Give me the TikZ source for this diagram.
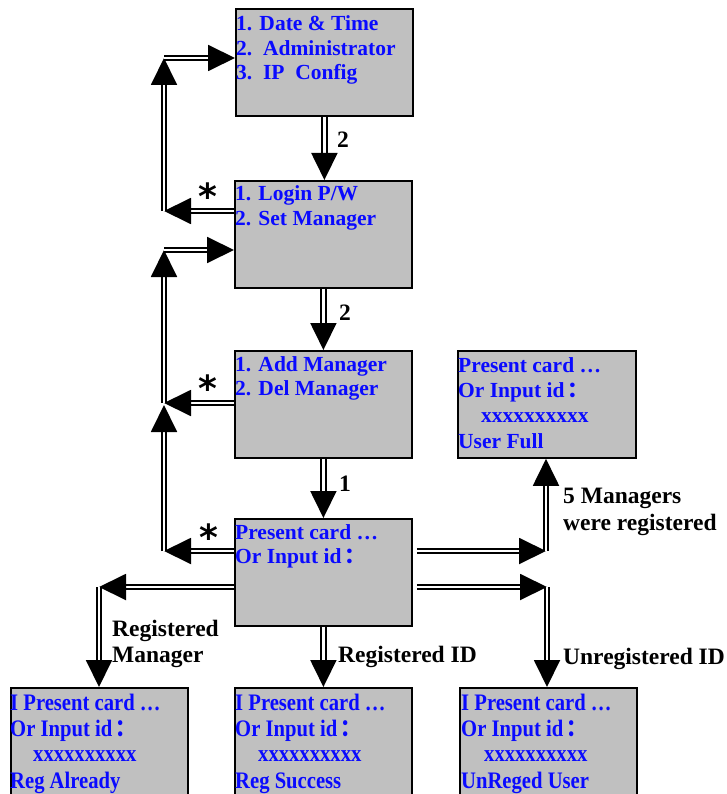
\documentclass[tikz,border=0pt]{standalone}
\usepackage{fontspec}
\setmainfont{Liberation Serif}
\newfontfamily\cjk{Noto Sans CJK SC}
\newfontfamily\starfont{DejaVu Sans}
\usetikzlibrary{arrows.meta,calc}
\definecolor{boxgray}{RGB}{192,192,192}
\definecolor{txtblue}{RGB}{10,10,255}
\newcommand{\fcol}{\hspace{3pt}{\cjk ：}}
\newcommand{\sq}[1]{\scalebox{0.96}[1.1]{#1}}
\begin{document}
\begin{tikzpicture}[x=1pt,y=-1pt,
  box/.style={draw=black, line width=1.8pt, fill=boxgray, anchor=north west,
    minimum width=177pt, minimum height=107pt, inner sep=0pt},
  btxt/.style={anchor=base west, inner sep=0pt, text=txtblue,
    font=\fontsize{21.5}{24}\selectfont\bfseries},
  lbl/.style={anchor=base west, inner sep=0pt, text=black,
    font=\fontsize{23.5}{26}\selectfont\bfseries},
  starlbl/.style={anchor=center, inner sep=0pt, text=black,
    font=\starfont\fontsize{36}{36}\selectfont\bfseries},
  dbl/.style={draw=black, double=white, double distance=2.8pt, line width=1.9pt,
    -{Triangle[length=27pt,width=26pt]}},
]
\useasboundingbox (0,0) rectangle (726,794);

% boxes
\node[box] (A) at (235,8) {};
\node[box] (C) at (234,180) {};
\node[box] (E) at (234,350) {};
\node[box] (G) at (234,518) {};
\node[box, minimum width=178pt] (F) at (457,350) {};
\node[box, minimum height=130pt] (BL) at (10,687) {};
\node[box, minimum height=130pt] (BM) at (234,687) {};
\node[box, minimum height=130pt] (BR) at (459,687) {};

% box texts
\node[btxt] (a1) at (236,31) {1. Date \& Time};
\node[btxt] (a2) at (236,55.5) {2.\ \ Administrator};
\node[btxt] (a3) at (236,80) {3.\ \ IP\ \ Config};

\node[btxt] (c1t) at (235,201) {1. Login P/W};
\node[btxt] (c2t) at (235,225.5) {2. Set Manager};

\node[btxt] (e1t) at (235,371) {1. Add Manager};
\node[btxt] (e2t) at (235,395.5) {2. Del Manager};

\node[btxt] (g1t) at (235,539) {Present card …};
\node[btxt] (g2t) at (235,563.5) {Or Input id\fcol};

\node[btxt] (f1t) at (458,372) {Present card …};
\node[btxt] (f2t) at (458,397) {Or Input id\fcol};
\node[btxt] (f3t) at (481,422) {xxxxxxxxxx};
\node[btxt] (f4t) at (458,448) {User Full};

\node[btxt] (bl1) at (10,710) {\sq{I Present card …}};
\node[btxt] (bl2) at (10,736) {\sq{Or Input id\fcol}};
\node[btxt] (bl3) at (33,761) {\sq{xxxxxxxxxx}};
\node[btxt] (bl4) at (10,788) {\sq{Reg Already}};

\node[btxt] (bm1) at (235,710) {\sq{I Present card …}};
\node[btxt] (bm2) at (235,736) {\sq{Or Input id\fcol}};
\node[btxt] (bm3) at (258,761) {\sq{xxxxxxxxxx}};
\node[btxt] (bm4) at (235,788) {\sq{Reg Success}};

\node[btxt] (br1) at (461,710) {\sq{I Present card …}};
\node[btxt] (br2) at (461,736) {\sq{Or Input id\fcol}};
\node[btxt] (br3) at (484,761) {\sq{xxxxxxxxxx}};
\node[btxt] (br4) at (461,788) {\sq{UnReged User}};

% vertical main flow
\draw[dbl] (A.south) -- (A.south |- C.north);
\draw[dbl] (C.south) -- (C.south |- E.north);
\draw[dbl] (E.south) -- (E.south |- G.north);
\draw[dbl] (G.south) -- (G.south |- BM.north);

% return loops on the left
\coordinate (c1) at (164,211);
\coordinate (c2) at (164,58);
\draw[dbl] (C.west |- c1) -- (c1);
\draw[dbl] (c1) -- (c2);
\draw[dbl] (c2) -- (A.west |- c2);

\coordinate (e1) at (164,403);
\coordinate (e2) at (164,250);
\draw[dbl] (E.west |- e1) -- (e1);
\draw[dbl] (e1) -- (e2);
\draw[dbl] (e2) -- (C.west |- e2);

\coordinate (g1) at (164,551);
\coordinate (g2) at (164,405);
\draw[dbl] (G.west |- g1) -- (g1);
\draw[dbl] (g1) -- (g2);

% right branches
\coordinate (r1) at (546,551);
\draw[dbl, shorten <=4pt] (G.east |- r1) -- (r1);
\draw[dbl] (r1) -- (r1 |- F.south);

\coordinate (r2) at (547,587);
\draw[dbl, shorten <=4pt] (G.east |- r2) -- (r2);
\draw[dbl] (r2) -- (r2 |- BR.north);

% left branch
\coordinate (l2) at (99,587);
\draw[dbl] (G.west |- l2) -- (l2);
\draw[dbl] (l2) -- (l2 |- BL.north);

% labels
\node[lbl] (n1) at (337,148) {2};
\node[lbl] (n2) at (339,320) {2};
\node[lbl] (n3) at (339,491) {1};

\node[starlbl] (s1) at (208,196) {*};
\node[starlbl] (s2) at (208,388) {*};
\node[starlbl] (s3) at (209,537) {*};

\node[lbl] (m1) at (563,503) {5 Managers};
\node[lbl] (m2) at (563,530) {were registered};
\node[lbl] (u1) at (563,664) {Unregistered ID};
\node[lbl] (ri) at (338,662) {Registered ID};
\node[lbl] (rm1) at (112,636) {Registered};
\node[lbl] (rm2) at (112,662) {Manager};
\end{tikzpicture}
\end{document}
